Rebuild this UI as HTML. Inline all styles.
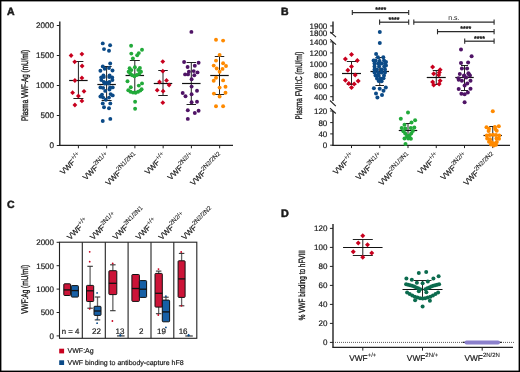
<!DOCTYPE html>
<html><head><meta charset="utf-8"><style>
html,body{margin:0;padding:0;background:#fff;}
svg{display:block;will-change:transform;}
text{text-rendering:geometricPrecision;font-family:"Liberation Sans", sans-serif;fill:#1a1a1a;stroke:#1a1a1a;stroke-width:0.2px;} tspan.s{stroke-width:0.1px;} text.ns{stroke-width:0;} text.bl{stroke-width:0.5px;} text.ast{stroke-width:0.35px;} text.yt{stroke-width:0.35px;}
</style></head><body>
<svg width="520" height="372" viewBox="0 0 520 372">
<rect width="520" height="372" fill="#fff"/>
<rect x="0.7" y="0.7" width="518.6" height="370.6" fill="none" stroke="#000" stroke-width="1.4"/>
<text x="7" y="15.4" font-size="10.5" text-anchor="start" font-weight="bold" class="bl">A</text>
<line x1="59.8" y1="21.5" x2="59.8" y2="146.1" stroke="#222" stroke-width="1.4" />
<line x1="59" y1="145.4" x2="233" y2="145.4" stroke="#222" stroke-width="1.3" />
<line x1="56.8" y1="25.5" x2="59.5" y2="25.5" stroke="#222" stroke-width="1" />
<text x="53.9" y="28.4" font-size="8.1" text-anchor="end" font-weight="normal" >2000</text>
<line x1="56.8" y1="55.5" x2="59.5" y2="55.5" stroke="#222" stroke-width="1" />
<text x="53.9" y="58.4" font-size="8.1" text-anchor="end" font-weight="normal" >1500</text>
<line x1="56.8" y1="85.5" x2="59.5" y2="85.5" stroke="#222" stroke-width="1" />
<text x="53.9" y="88.4" font-size="8.1" text-anchor="end" font-weight="normal" >1000</text>
<line x1="56.8" y1="115.5" x2="59.5" y2="115.5" stroke="#222" stroke-width="1" />
<text x="53.9" y="118.4" font-size="8.1" text-anchor="end" font-weight="normal" >500</text>
<line x1="56.8" y1="145.5" x2="59.5" y2="145.5" stroke="#222" stroke-width="1" />
<text x="53.9" y="148.4" font-size="8.1" text-anchor="end" font-weight="normal" >0</text>
<text x="0" y="0" font-size="9.6" text-anchor="middle" font-weight="normal" textLength="71" lengthAdjust="spacingAndGlyphs" class="yt" transform="translate(28.1,85.45) rotate(-90)">Plasma VWF-Ag (mU/ml)</text>
<line x1="78.4" y1="145.5" x2="78.4" y2="148.3" stroke="#222" stroke-width="1" />
<line x1="106.65" y1="145.5" x2="106.65" y2="148.3" stroke="#222" stroke-width="1" />
<line x1="134.9" y1="145.5" x2="134.9" y2="148.3" stroke="#222" stroke-width="1" />
<line x1="163.15" y1="145.5" x2="163.15" y2="148.3" stroke="#222" stroke-width="1" />
<line x1="191.4" y1="145.5" x2="191.4" y2="148.3" stroke="#222" stroke-width="1" />
<line x1="219.65" y1="145.5" x2="219.65" y2="148.3" stroke="#222" stroke-width="1" />
<text transform="translate(81.80,156.5) rotate(-45)" font-size="7.8" text-anchor="end">VWF<tspan class="s" font-size="6.2" dy="-3.5">+/+</tspan></text>
<text transform="translate(110.05,156.5) rotate(-45)" font-size="7.8" text-anchor="end">VWF<tspan class="s" font-size="6.2" dy="-3.5">2N1/+</tspan></text>
<text transform="translate(138.30,156.5) rotate(-45)" font-size="7.8" text-anchor="end">VWF<tspan class="s" font-size="6.2" dy="-3.5">2N1/2N1</tspan></text>
<text transform="translate(166.55,156.5) rotate(-45)" font-size="7.8" text-anchor="end">VWF<tspan class="s" font-size="6.2" dy="-3.5">+/+</tspan></text>
<text transform="translate(194.80,156.5) rotate(-45)" font-size="7.8" text-anchor="end">VWF<tspan class="s" font-size="6.2" dy="-3.5">2N2/+</tspan></text>
<text transform="translate(223.05,156.5) rotate(-45)" font-size="7.8" text-anchor="end">VWF<tspan class="s" font-size="6.2" dy="-3.5">2N2/2N2</tspan></text>
<line x1="78.4" y1="61.5" x2="78.4" y2="98.5" stroke="#222" stroke-width="1" />
<line x1="73.4" y1="61.5" x2="83.4" y2="61.5" stroke="#222" stroke-width="1" />
<line x1="73.4" y1="98.5" x2="83.4" y2="98.5" stroke="#222" stroke-width="1" />
<line x1="69.15" y1="80.5" x2="87.65" y2="80.5" stroke="#111" stroke-width="1.2" />
<line x1="106.6" y1="66.5" x2="106.6" y2="100.5" stroke="#222" stroke-width="1" />
<line x1="101.6" y1="66.5" x2="111.6" y2="66.5" stroke="#222" stroke-width="1" />
<line x1="101.6" y1="100.5" x2="111.6" y2="100.5" stroke="#222" stroke-width="1" />
<line x1="97.35" y1="84.5" x2="115.85" y2="84.5" stroke="#111" stroke-width="1.2" />
<line x1="134.8" y1="60.5" x2="134.8" y2="91.5" stroke="#222" stroke-width="1" />
<line x1="129.8" y1="60.5" x2="139.8" y2="60.5" stroke="#222" stroke-width="1" />
<line x1="129.8" y1="91.5" x2="139.8" y2="91.5" stroke="#222" stroke-width="1" />
<line x1="125.55000000000001" y1="75.5" x2="144.05" y2="75.5" stroke="#111" stroke-width="1.2" />
<line x1="163.0" y1="70.5" x2="163.0" y2="95.5" stroke="#222" stroke-width="1" />
<line x1="158.25" y1="70.5" x2="167.75" y2="70.5" stroke="#222" stroke-width="1" />
<line x1="158.25" y1="95.5" x2="167.75" y2="95.5" stroke="#222" stroke-width="1" />
<line x1="153.75" y1="83.5" x2="172.25" y2="83.5" stroke="#111" stroke-width="1.2" />
<line x1="191.3" y1="62.5" x2="191.3" y2="104.5" stroke="#222" stroke-width="1" />
<line x1="186.55" y1="62.5" x2="196.05" y2="62.5" stroke="#222" stroke-width="1" />
<line x1="186.55" y1="104.5" x2="196.05" y2="104.5" stroke="#222" stroke-width="1" />
<line x1="182.05" y1="83.5" x2="200.55" y2="83.5" stroke="#111" stroke-width="1.2" />
<line x1="219.5" y1="56.5" x2="219.5" y2="94.5" stroke="#222" stroke-width="1" />
<line x1="214.75" y1="56.5" x2="224.25" y2="56.5" stroke="#222" stroke-width="1" />
<line x1="214.75" y1="94.5" x2="224.25" y2="94.5" stroke="#222" stroke-width="1" />
<line x1="210.25" y1="75.5" x2="228.75" y2="75.5" stroke="#111" stroke-width="1.2" />
<path d="M71.10 53.10L73.50 55.50L71.10 57.90L68.70 55.50Z" fill="#c8001e"/>
<path d="M81.90 51.70L84.30 54.10L81.90 56.50L79.50 54.10Z" fill="#c8001e"/>
<path d="M74.70 59.40L77.10 61.80L74.70 64.20L72.30 61.80Z" fill="#c8001e"/>
<path d="M82.10 63.60L84.50 66.00L82.10 68.40L79.70 66.00Z" fill="#c8001e"/>
<path d="M74.90 78.10L77.30 80.50L74.90 82.90L72.50 80.50Z" fill="#c8001e"/>
<path d="M81.90 75.50L84.30 77.90L81.90 80.30L79.50 77.90Z" fill="#c8001e"/>
<path d="M72.60 90.30L75.00 92.70L72.60 95.10L70.20 92.70Z" fill="#c8001e"/>
<path d="M84.00 88.90L86.40 91.30L84.00 93.70L81.60 91.30Z" fill="#c8001e"/>
<path d="M78.40 93.60L80.80 96.00L78.40 98.40L76.00 96.00Z" fill="#c8001e"/>
<path d="M81.90 98.50L84.30 100.90L81.90 103.30L79.50 100.90Z" fill="#c8001e"/>
<path d="M74.90 102.60L77.30 105.00L74.90 107.40L72.50 105.00Z" fill="#c8001e"/>
<circle cx="102.75" cy="43.40" r="1.95" fill="#0b4a87"/>
<circle cx="110.10" cy="45.30" r="1.95" fill="#0b4a87"/>
<circle cx="104.00" cy="49.10" r="1.95" fill="#0b4a87"/>
<circle cx="109.00" cy="50.70" r="1.95" fill="#0b4a87"/>
<circle cx="110.20" cy="63.50" r="1.95" fill="#0b4a87"/>
<circle cx="102.80" cy="66.40" r="1.95" fill="#0b4a87"/>
<circle cx="104.70" cy="68.80" r="1.95" fill="#0b4a87"/>
<circle cx="109.00" cy="68.00" r="1.95" fill="#0b4a87"/>
<circle cx="100.40" cy="70.70" r="1.95" fill="#0b4a87"/>
<circle cx="112.50" cy="70.50" r="1.95" fill="#0b4a87"/>
<circle cx="101.20" cy="77.50" r="1.95" fill="#0b4a87"/>
<circle cx="103.40" cy="75.40" r="1.95" fill="#0b4a87"/>
<circle cx="109.60" cy="75.40" r="1.95" fill="#0b4a87"/>
<circle cx="112.20" cy="77.50" r="1.95" fill="#0b4a87"/>
<circle cx="101.30" cy="80.00" r="1.95" fill="#0b4a87"/>
<circle cx="112.40" cy="80.00" r="1.95" fill="#0b4a87"/>
<circle cx="103.80" cy="77.00" r="1.95" fill="#0b4a87"/>
<circle cx="109.30" cy="77.00" r="1.95" fill="#0b4a87"/>
<circle cx="103.90" cy="81.90" r="1.95" fill="#0b4a87"/>
<circle cx="109.40" cy="81.90" r="1.95" fill="#0b4a87"/>
<circle cx="106.60" cy="82.80" r="1.95" fill="#0b4a87"/>
<circle cx="104.70" cy="83.50" r="1.95" fill="#0b4a87"/>
<circle cx="108.50" cy="83.50" r="1.95" fill="#0b4a87"/>
<circle cx="100.40" cy="87.40" r="1.95" fill="#0b4a87"/>
<circle cx="103.10" cy="87.90" r="1.95" fill="#0b4a87"/>
<circle cx="110.10" cy="87.40" r="1.95" fill="#0b4a87"/>
<circle cx="112.70" cy="87.40" r="1.95" fill="#0b4a87"/>
<circle cx="109.50" cy="89.50" r="1.95" fill="#0b4a87"/>
<circle cx="105.20" cy="90.90" r="1.95" fill="#0b4a87"/>
<circle cx="102.00" cy="94.60" r="1.95" fill="#0b4a87"/>
<circle cx="100.40" cy="96.50" r="1.95" fill="#0b4a87"/>
<circle cx="110.60" cy="94.10" r="1.95" fill="#0b4a87"/>
<circle cx="112.70" cy="95.40" r="1.95" fill="#0b4a87"/>
<circle cx="103.10" cy="97.60" r="1.95" fill="#0b4a87"/>
<circle cx="109.00" cy="97.60" r="1.95" fill="#0b4a87"/>
<circle cx="105.80" cy="99.70" r="1.95" fill="#0b4a87"/>
<circle cx="102.75" cy="103.40" r="1.95" fill="#0b4a87"/>
<circle cx="110.30" cy="103.40" r="1.95" fill="#0b4a87"/>
<circle cx="104.00" cy="107.20" r="1.95" fill="#0b4a87"/>
<circle cx="109.00" cy="108.20" r="1.95" fill="#0b4a87"/>
<circle cx="102.75" cy="121.00" r="1.95" fill="#0b4a87"/>
<circle cx="110.30" cy="118.90" r="1.95" fill="#0b4a87"/>
<circle cx="131.10" cy="45.70" r="1.95" fill="#22aa3a"/>
<circle cx="142.00" cy="49.80" r="1.95" fill="#22aa3a"/>
<circle cx="131.30" cy="53.60" r="1.95" fill="#22aa3a"/>
<circle cx="138.80" cy="53.10" r="1.95" fill="#22aa3a"/>
<circle cx="137.20" cy="55.20" r="1.95" fill="#22aa3a"/>
<circle cx="132.90" cy="58.40" r="1.95" fill="#22aa3a"/>
<circle cx="129.60" cy="68.30" r="1.95" fill="#22aa3a"/>
<circle cx="134.90" cy="67.30" r="1.95" fill="#22aa3a"/>
<circle cx="139.90" cy="68.00" r="1.95" fill="#22aa3a"/>
<circle cx="128.60" cy="71.70" r="1.95" fill="#22aa3a"/>
<circle cx="141.00" cy="71.70" r="1.95" fill="#22aa3a"/>
<circle cx="130.30" cy="73.60" r="1.95" fill="#22aa3a"/>
<circle cx="139.30" cy="73.80" r="1.95" fill="#22aa3a"/>
<circle cx="132.20" cy="75.20" r="1.95" fill="#22aa3a"/>
<circle cx="136.80" cy="75.00" r="1.95" fill="#22aa3a"/>
<circle cx="134.50" cy="76.20" r="1.95" fill="#22aa3a"/>
<circle cx="131.40" cy="70.10" r="1.95" fill="#22aa3a"/>
<circle cx="138.30" cy="70.00" r="1.95" fill="#22aa3a"/>
<circle cx="127.50" cy="81.30" r="1.95" fill="#22aa3a"/>
<circle cx="142.00" cy="83.40" r="1.95" fill="#22aa3a"/>
<circle cx="138.80" cy="85.60" r="1.95" fill="#22aa3a"/>
<circle cx="130.80" cy="87.20" r="1.95" fill="#22aa3a"/>
<circle cx="128.30" cy="90.20" r="1.95" fill="#22aa3a"/>
<circle cx="130.50" cy="91.70" r="1.95" fill="#22aa3a"/>
<circle cx="133.00" cy="92.60" r="1.95" fill="#22aa3a"/>
<circle cx="135.60" cy="92.70" r="1.95" fill="#22aa3a"/>
<circle cx="138.10" cy="91.80" r="1.95" fill="#22aa3a"/>
<circle cx="140.30" cy="90.60" r="1.95" fill="#22aa3a"/>
<circle cx="141.60" cy="89.20" r="1.95" fill="#22aa3a"/>
<circle cx="135.10" cy="101.70" r="1.95" fill="#22aa3a"/>
<circle cx="135.10" cy="108.70" r="1.95" fill="#22aa3a"/>
<path d="M162.80 59.20L165.20 61.60L162.80 64.00L160.40 61.60Z" fill="#c8001e"/>
<path d="M162.80 68.80L165.20 71.20L162.80 73.60L160.40 71.20Z" fill="#c8001e"/>
<path d="M159.50 79.60L161.90 82.00L159.50 84.40L157.10 82.00Z" fill="#c8001e"/>
<path d="M166.50 78.00L168.90 80.40L166.50 82.80L164.10 80.40Z" fill="#c8001e"/>
<path d="M169.10 82.60L171.50 85.00L169.10 87.40L166.70 85.00Z" fill="#c8001e"/>
<path d="M157.20 87.80L159.60 90.20L157.20 92.60L154.80 90.20Z" fill="#c8001e"/>
<path d="M163.10 88.80L165.50 91.20L163.10 93.60L160.70 91.20Z" fill="#c8001e"/>
<path d="M162.80 100.30L165.20 102.70L162.80 105.10L160.40 102.70Z" fill="#c8001e"/>
<circle cx="191.40" cy="31.90" r="1.95" fill="#4f1466"/>
<circle cx="184.10" cy="62.00" r="1.95" fill="#4f1466"/>
<circle cx="198.60" cy="62.70" r="1.95" fill="#4f1466"/>
<circle cx="187.60" cy="67.00" r="1.95" fill="#4f1466"/>
<circle cx="194.80" cy="65.80" r="1.95" fill="#4f1466"/>
<circle cx="188.90" cy="71.70" r="1.95" fill="#4f1466"/>
<circle cx="193.70" cy="71.10" r="1.95" fill="#4f1466"/>
<circle cx="197.50" cy="72.40" r="1.95" fill="#4f1466"/>
<circle cx="185.10" cy="74.40" r="1.95" fill="#4f1466"/>
<circle cx="188.00" cy="74.40" r="1.95" fill="#4f1466"/>
<circle cx="194.30" cy="75.20" r="1.95" fill="#4f1466"/>
<circle cx="191.60" cy="79.20" r="1.95" fill="#4f1466"/>
<circle cx="191.60" cy="86.60" r="1.95" fill="#4f1466"/>
<circle cx="197.00" cy="90.70" r="1.95" fill="#4f1466"/>
<circle cx="182.70" cy="93.00" r="1.95" fill="#4f1466"/>
<circle cx="185.50" cy="96.30" r="1.95" fill="#4f1466"/>
<circle cx="191.60" cy="94.20" r="1.95" fill="#4f1466"/>
<circle cx="191.60" cy="102.20" r="1.95" fill="#4f1466"/>
<circle cx="197.00" cy="101.70" r="1.95" fill="#4f1466"/>
<circle cx="187.80" cy="110.30" r="1.95" fill="#4f1466"/>
<circle cx="194.80" cy="113.00" r="1.95" fill="#4f1466"/>
<circle cx="198.60" cy="110.80" r="1.95" fill="#4f1466"/>
<circle cx="187.80" cy="118.90" r="1.95" fill="#4f1466"/>
<circle cx="216.00" cy="39.80" r="1.95" fill="#ff8a00"/>
<circle cx="223.10" cy="40.60" r="1.95" fill="#ff8a00"/>
<circle cx="219.60" cy="54.90" r="1.95" fill="#ff8a00"/>
<circle cx="216.00" cy="60.60" r="1.95" fill="#ff8a00"/>
<circle cx="223.10" cy="63.20" r="1.95" fill="#ff8a00"/>
<circle cx="213.70" cy="65.60" r="1.95" fill="#ff8a00"/>
<circle cx="226.00" cy="66.00" r="1.95" fill="#ff8a00"/>
<circle cx="216.70" cy="68.50" r="1.95" fill="#ff8a00"/>
<circle cx="222.50" cy="68.90" r="1.95" fill="#ff8a00"/>
<circle cx="219.60" cy="71.70" r="1.95" fill="#ff8a00"/>
<circle cx="216.00" cy="77.70" r="1.95" fill="#ff8a00"/>
<circle cx="213.70" cy="80.70" r="1.95" fill="#ff8a00"/>
<circle cx="223.10" cy="80.40" r="1.95" fill="#ff8a00"/>
<circle cx="219.60" cy="87.60" r="1.95" fill="#ff8a00"/>
<circle cx="225.50" cy="86.80" r="1.95" fill="#ff8a00"/>
<circle cx="213.90" cy="93.60" r="1.95" fill="#ff8a00"/>
<circle cx="225.50" cy="92.70" r="1.95" fill="#ff8a00"/>
<circle cx="219.60" cy="96.50" r="1.95" fill="#ff8a00"/>
<circle cx="216.00" cy="106.20" r="1.95" fill="#ff8a00"/>
<circle cx="223.10" cy="106.20" r="1.95" fill="#ff8a00"/>
<text x="281" y="15.2" font-size="10.5" text-anchor="start" font-weight="bold" class="bl">B</text>
<line x1="333" y1="21.5" x2="333" y2="33" stroke="#222" stroke-width="1.4" />
<line x1="330.2" y1="31.8" x2="336" y2="37.2" stroke="#222" stroke-width="1.1" />
<line x1="330.2" y1="39.4" x2="336" y2="44.7" stroke="#222" stroke-width="1.1" />
<line x1="333" y1="42" x2="333" y2="101" stroke="#222" stroke-width="1.4" />
<line x1="330" y1="100.5" x2="335.8" y2="106.1" stroke="#222" stroke-width="1.1" />
<line x1="330" y1="108.2" x2="335.8" y2="113.5" stroke="#222" stroke-width="1.1" />
<line x1="333" y1="111" x2="333" y2="146" stroke="#222" stroke-width="1.4" />
<line x1="332.5" y1="145.35" x2="510" y2="145.35" stroke="#222" stroke-width="1.3" />
<line x1="330.2" y1="25.9" x2="333" y2="25.9" stroke="#222" stroke-width="1" />
<text x="327.3" y="28.9" font-size="8" text-anchor="end" font-weight="normal" >1900</text>
<line x1="330.2" y1="32.9" x2="333" y2="32.9" stroke="#222" stroke-width="1" />
<text x="327.3" y="35.9" font-size="8" text-anchor="end" font-weight="normal" >1800</text>
<line x1="330.2" y1="41.9" x2="333" y2="41.9" stroke="#222" stroke-width="1" />
<text x="327.3" y="44.9" font-size="8" text-anchor="end" font-weight="normal" >1400</text>
<line x1="330.2" y1="52.9" x2="333" y2="52.9" stroke="#222" stroke-width="1" />
<text x="327.3" y="55.9" font-size="8" text-anchor="end" font-weight="normal" >1200</text>
<line x1="330.2" y1="63.9" x2="333" y2="63.9" stroke="#222" stroke-width="1" />
<text x="327.3" y="66.9" font-size="8" text-anchor="end" font-weight="normal" >1000</text>
<line x1="330.2" y1="74.8" x2="333" y2="74.8" stroke="#222" stroke-width="1" />
<text x="327.3" y="77.8" font-size="8" text-anchor="end" font-weight="normal" >800</text>
<line x1="330.2" y1="85.7" x2="333" y2="85.7" stroke="#222" stroke-width="1" />
<text x="327.3" y="88.7" font-size="8" text-anchor="end" font-weight="normal" >600</text>
<line x1="330.2" y1="96.7" x2="333" y2="96.7" stroke="#222" stroke-width="1" />
<text x="327.3" y="99.7" font-size="8" text-anchor="end" font-weight="normal" >400</text>
<line x1="330.2" y1="111.0" x2="333" y2="111.0" stroke="#222" stroke-width="1" />
<text x="327.3" y="114.0" font-size="8" text-anchor="end" font-weight="normal" >120</text>
<line x1="330.2" y1="122.6" x2="333" y2="122.6" stroke="#222" stroke-width="1" />
<text x="327.3" y="125.6" font-size="8" text-anchor="end" font-weight="normal" >80</text>
<line x1="330.2" y1="133.9" x2="333" y2="133.9" stroke="#222" stroke-width="1" />
<text x="327.3" y="136.9" font-size="8" text-anchor="end" font-weight="normal" >40</text>
<line x1="330.2" y1="145.2" x2="333" y2="145.2" stroke="#222" stroke-width="1" />
<text x="327.3" y="148.2" font-size="8" text-anchor="end" font-weight="normal" >0</text>
<text x="0" y="0" font-size="9.6" text-anchor="middle" font-weight="normal" textLength="67.9" lengthAdjust="spacingAndGlyphs" class="yt" transform="translate(301.9,85.65) rotate(-90)">Plasma FVIII:C (mU/ml)</text>
<line x1="351.5" y1="145.3" x2="351.5" y2="148.1" stroke="#222" stroke-width="1" />
<line x1="379.75" y1="145.3" x2="379.75" y2="148.1" stroke="#222" stroke-width="1" />
<line x1="408.0" y1="145.3" x2="408.0" y2="148.1" stroke="#222" stroke-width="1" />
<line x1="436.25" y1="145.3" x2="436.25" y2="148.1" stroke="#222" stroke-width="1" />
<line x1="464.5" y1="145.3" x2="464.5" y2="148.1" stroke="#222" stroke-width="1" />
<line x1="492.75" y1="145.3" x2="492.75" y2="148.1" stroke="#222" stroke-width="1" />
<text transform="translate(354.90,156.5) rotate(-45)" font-size="7.8" text-anchor="end">VWF<tspan class="s" font-size="6.2" dy="-3.5">+/+</tspan></text>
<text transform="translate(383.15,156.5) rotate(-45)" font-size="7.8" text-anchor="end">VWF<tspan class="s" font-size="6.2" dy="-3.5">2N1/+</tspan></text>
<text transform="translate(411.40,156.5) rotate(-45)" font-size="7.8" text-anchor="end">VWF<tspan class="s" font-size="6.2" dy="-3.5">2N1/2N1</tspan></text>
<text transform="translate(439.65,156.5) rotate(-45)" font-size="7.8" text-anchor="end">VWF<tspan class="s" font-size="6.2" dy="-3.5">+/+</tspan></text>
<text transform="translate(467.90,156.5) rotate(-45)" font-size="7.8" text-anchor="end">VWF<tspan class="s" font-size="6.2" dy="-3.5">2N2/+</tspan></text>
<text transform="translate(496.15,156.5) rotate(-45)" font-size="7.8" text-anchor="end">VWF<tspan class="s" font-size="6.2" dy="-3.5">2N2/2N2</tspan></text>
<line x1="352.3" y1="12.5" x2="408.7" y2="12.5" stroke="#2a2a2a" stroke-width="1.25" />
<line x1="352.3" y1="9.9" x2="352.3" y2="15.1" stroke="#2a2a2a" stroke-width="1.1" />
<line x1="408.7" y1="9.9" x2="408.7" y2="15.1" stroke="#2a2a2a" stroke-width="1.1" />
<text x="380.7" y="12.2" font-size="7" text-anchor="middle" font-weight="normal" class="ast">****</text>
<line x1="379.6" y1="22.2" x2="408.7" y2="22.2" stroke="#2a2a2a" stroke-width="1.25" />
<line x1="379.6" y1="19.599999999999998" x2="379.6" y2="24.8" stroke="#2a2a2a" stroke-width="1.1" />
<line x1="408.7" y1="19.599999999999998" x2="408.7" y2="24.8" stroke="#2a2a2a" stroke-width="1.1" />
<text x="394.0" y="21.9" font-size="7" text-anchor="middle" font-weight="normal" class="ast">****</text>
<line x1="413.8" y1="22.2" x2="494.1" y2="22.2" stroke="#2a2a2a" stroke-width="1.25" />
<line x1="413.8" y1="19.599999999999998" x2="413.8" y2="24.8" stroke="#2a2a2a" stroke-width="1.1" />
<line x1="494.1" y1="19.599999999999998" x2="494.1" y2="24.8" stroke="#2a2a2a" stroke-width="1.1" />
<text x="453.9" y="20.0" font-size="7" text-anchor="middle" font-weight="normal" class="ns">n.s.</text>
<line x1="437.5" y1="31.7" x2="494.1" y2="31.7" stroke="#2a2a2a" stroke-width="1.25" />
<line x1="437.5" y1="29.099999999999998" x2="437.5" y2="34.3" stroke="#2a2a2a" stroke-width="1.1" />
<line x1="494.1" y1="29.099999999999998" x2="494.1" y2="34.3" stroke="#2a2a2a" stroke-width="1.1" />
<text x="465.8" y="31.4" font-size="7" text-anchor="middle" font-weight="normal" class="ast">****</text>
<line x1="464.7" y1="41.2" x2="494.1" y2="41.2" stroke="#2a2a2a" stroke-width="1.25" />
<line x1="464.7" y1="38.6" x2="464.7" y2="43.800000000000004" stroke="#2a2a2a" stroke-width="1.1" />
<line x1="494.1" y1="38.6" x2="494.1" y2="43.800000000000004" stroke="#2a2a2a" stroke-width="1.1" />
<text x="479.5" y="40.900000000000006" font-size="7" text-anchor="middle" font-weight="normal" class="ast">****</text>
<line x1="351.5" y1="61.5" x2="351.5" y2="84.5" stroke="#222" stroke-width="1" />
<line x1="346.75" y1="61.5" x2="356.25" y2="61.5" stroke="#222" stroke-width="1" />
<line x1="346.75" y1="84.5" x2="356.25" y2="84.5" stroke="#222" stroke-width="1" />
<line x1="342.0" y1="73.5" x2="361.0" y2="73.5" stroke="#111" stroke-width="1.2" />
<line x1="379.75" y1="57.5" x2="379.75" y2="85.5" stroke="#222" stroke-width="1" />
<line x1="375.45" y1="57.5" x2="384.05" y2="57.5" stroke="#222" stroke-width="1" />
<line x1="375.45" y1="85.5" x2="384.05" y2="85.5" stroke="#222" stroke-width="1" />
<line x1="370.5" y1="71.5" x2="389.0" y2="71.5" stroke="#111" stroke-width="1.2" />
<line x1="408.0" y1="123.5" x2="408.0" y2="137.5" stroke="#222" stroke-width="1" />
<line x1="405.0" y1="123.5" x2="411.0" y2="123.5" stroke="#222" stroke-width="1" />
<line x1="405.0" y1="137.5" x2="411.0" y2="137.5" stroke="#222" stroke-width="1" />
<line x1="398.75" y1="130.5" x2="417.25" y2="130.5" stroke="#111" stroke-width="1.2" />
<line x1="436.25" y1="70.5" x2="436.25" y2="84.5" stroke="#222" stroke-width="1" />
<line x1="432.75" y1="70.5" x2="439.75" y2="70.5" stroke="#222" stroke-width="1" />
<line x1="432.75" y1="84.5" x2="439.75" y2="84.5" stroke="#222" stroke-width="1" />
<line x1="426.75" y1="77.5" x2="445.75" y2="77.5" stroke="#111" stroke-width="1.2" />
<line x1="464.5" y1="65.5" x2="464.5" y2="90.5" stroke="#222" stroke-width="1" />
<line x1="461.0" y1="65.5" x2="468.0" y2="65.5" stroke="#222" stroke-width="1" />
<line x1="461.0" y1="90.5" x2="468.0" y2="90.5" stroke="#222" stroke-width="1" />
<line x1="455.25" y1="77.5" x2="473.75" y2="77.5" stroke="#111" stroke-width="1.2" />
<line x1="492.75" y1="126.5" x2="492.75" y2="144.5" stroke="#222" stroke-width="1" />
<line x1="489.25" y1="126.5" x2="496.25" y2="126.5" stroke="#222" stroke-width="1" />
<line x1="489.25" y1="144.5" x2="496.25" y2="144.5" stroke="#222" stroke-width="1" />
<line x1="483.5" y1="135.5" x2="502.0" y2="135.5" stroke="#111" stroke-width="1.2" />
<path d="M351.50 51.90L354.00 54.40L351.50 56.90L349.00 54.40Z" fill="#c8001e"/>
<path d="M345.40 56.60L347.90 59.10L345.40 61.60L342.90 59.10Z" fill="#c8001e"/>
<path d="M357.30 58.00L359.80 60.50L357.30 63.00L354.80 60.50Z" fill="#c8001e"/>
<path d="M351.50 64.00L354.00 66.50L351.50 69.00L349.00 66.50Z" fill="#c8001e"/>
<path d="M347.80 67.80L350.30 70.30L347.80 72.80L345.30 70.30Z" fill="#c8001e"/>
<path d="M355.20 72.40L357.70 74.90L355.20 77.40L352.70 74.90Z" fill="#c8001e"/>
<path d="M345.40 77.80L347.90 80.30L345.40 82.80L342.90 80.30Z" fill="#c8001e"/>
<path d="M348.80 80.90L351.30 83.40L348.80 85.90L346.30 83.40Z" fill="#c8001e"/>
<path d="M354.20 81.50L356.70 84.00L354.20 86.50L351.70 84.00Z" fill="#c8001e"/>
<path d="M358.20 78.60L360.70 81.10L358.20 83.60L355.70 81.10Z" fill="#c8001e"/>
<path d="M351.50 84.90L354.00 87.40L351.50 89.90L349.00 87.40Z" fill="#c8001e"/>
<circle cx="379.80" cy="32.00" r="2.0" fill="#0b4a87"/>
<circle cx="379.80" cy="43.10" r="2.0" fill="#0b4a87"/>
<circle cx="376.10" cy="54.00" r="2.0" fill="#0b4a87"/>
<circle cx="377.90" cy="57.30" r="2.0" fill="#0b4a87"/>
<circle cx="383.30" cy="57.30" r="2.0" fill="#0b4a87"/>
<circle cx="373.60" cy="60.50" r="2.0" fill="#0b4a87"/>
<circle cx="386.00" cy="62.10" r="2.0" fill="#0b4a87"/>
<circle cx="375.50" cy="60.50" r="2.0" fill="#0b4a87"/>
<circle cx="379.50" cy="61.00" r="2.0" fill="#0b4a87"/>
<circle cx="384.00" cy="60.50" r="2.0" fill="#0b4a87"/>
<circle cx="374.50" cy="63.50" r="2.0" fill="#0b4a87"/>
<circle cx="378.00" cy="63.50" r="2.0" fill="#0b4a87"/>
<circle cx="381.50" cy="63.50" r="2.0" fill="#0b4a87"/>
<circle cx="385.00" cy="63.50" r="2.0" fill="#0b4a87"/>
<circle cx="374.50" cy="66.50" r="2.0" fill="#0b4a87"/>
<circle cx="379.10" cy="66.50" r="2.0" fill="#0b4a87"/>
<circle cx="384.20" cy="66.50" r="2.0" fill="#0b4a87"/>
<circle cx="386.00" cy="65.50" r="2.0" fill="#0b4a87"/>
<circle cx="374.50" cy="69.50" r="2.0" fill="#0b4a87"/>
<circle cx="377.00" cy="69.50" r="2.0" fill="#0b4a87"/>
<circle cx="381.50" cy="69.50" r="2.0" fill="#0b4a87"/>
<circle cx="385.00" cy="69.50" r="2.0" fill="#0b4a87"/>
<circle cx="374.50" cy="72.50" r="2.0" fill="#0b4a87"/>
<circle cx="378.00" cy="72.50" r="2.0" fill="#0b4a87"/>
<circle cx="381.50" cy="72.50" r="2.0" fill="#0b4a87"/>
<circle cx="385.00" cy="72.50" r="2.0" fill="#0b4a87"/>
<circle cx="375.50" cy="75.50" r="2.0" fill="#0b4a87"/>
<circle cx="378.50" cy="75.50" r="2.0" fill="#0b4a87"/>
<circle cx="384.00" cy="75.50" r="2.0" fill="#0b4a87"/>
<circle cx="377.00" cy="78.50" r="2.0" fill="#0b4a87"/>
<circle cx="380.50" cy="78.50" r="2.0" fill="#0b4a87"/>
<circle cx="383.50" cy="78.30" r="2.0" fill="#0b4a87"/>
<circle cx="378.70" cy="81.00" r="2.0" fill="#0b4a87"/>
<circle cx="381.60" cy="81.20" r="2.0" fill="#0b4a87"/>
<circle cx="373.90" cy="88.20" r="2.0" fill="#0b4a87"/>
<circle cx="379.70" cy="88.80" r="2.0" fill="#0b4a87"/>
<circle cx="385.80" cy="87.60" r="2.0" fill="#0b4a87"/>
<circle cx="383.50" cy="90.80" r="2.0" fill="#0b4a87"/>
<circle cx="376.00" cy="93.40" r="2.0" fill="#0b4a87"/>
<circle cx="382.00" cy="95.10" r="2.0" fill="#0b4a87"/>
<circle cx="377.40" cy="97.40" r="2.0" fill="#0b4a87"/>
<circle cx="408.00" cy="112.50" r="2.0" fill="#22aa3a"/>
<circle cx="400.80" cy="118.80" r="2.0" fill="#22aa3a"/>
<circle cx="415.10" cy="120.20" r="2.0" fill="#22aa3a"/>
<circle cx="411.50" cy="122.50" r="2.0" fill="#22aa3a"/>
<circle cx="404.50" cy="124.80" r="2.0" fill="#22aa3a"/>
<circle cx="401.70" cy="128.10" r="2.0" fill="#22aa3a"/>
<circle cx="414.30" cy="127.50" r="2.0" fill="#22aa3a"/>
<circle cx="405.30" cy="128.40" r="2.0" fill="#22aa3a"/>
<circle cx="410.80" cy="128.00" r="2.0" fill="#22aa3a"/>
<circle cx="403.40" cy="131.20" r="2.0" fill="#22aa3a"/>
<circle cx="412.80" cy="131.00" r="2.0" fill="#22aa3a"/>
<circle cx="405.20" cy="133.60" r="2.0" fill="#22aa3a"/>
<circle cx="411.20" cy="133.40" r="2.0" fill="#22aa3a"/>
<circle cx="406.90" cy="136.00" r="2.0" fill="#22aa3a"/>
<circle cx="409.50" cy="135.80" r="2.0" fill="#22aa3a"/>
<circle cx="404.50" cy="138.40" r="2.0" fill="#22aa3a"/>
<circle cx="410.90" cy="138.70" r="2.0" fill="#22aa3a"/>
<circle cx="408.20" cy="138.40" r="2.0" fill="#22aa3a"/>
<circle cx="405.50" cy="144.00" r="2.0" fill="#22aa3a"/>
<path d="M432.60 64.50L435.10 67.00L432.60 69.50L430.10 67.00Z" fill="#c8001e"/>
<path d="M440.10 67.30L442.60 69.80L440.10 72.30L437.60 69.80Z" fill="#c8001e"/>
<path d="M439.30 69.90L441.80 72.40L439.30 74.90L436.80 72.40Z" fill="#c8001e"/>
<path d="M433.70 71.30L436.20 73.80L433.70 76.30L431.20 73.80Z" fill="#c8001e"/>
<path d="M438.70 72.40L441.20 74.90L438.70 77.40L436.20 74.90Z" fill="#c8001e"/>
<path d="M432.60 79.40L435.10 81.90L432.60 84.40L430.10 81.90Z" fill="#c8001e"/>
<path d="M440.10 78.30L442.60 80.80L440.10 83.30L437.60 80.80Z" fill="#c8001e"/>
<path d="M433.70 82.60L436.20 85.10L433.70 87.60L431.20 85.10Z" fill="#c8001e"/>
<path d="M439.10 81.50L441.60 84.00L439.10 86.50L436.60 84.00Z" fill="#c8001e"/>
<circle cx="461.00" cy="49.50" r="2.0" fill="#4f1466"/>
<circle cx="471.60" cy="56.30" r="2.0" fill="#4f1466"/>
<circle cx="461.00" cy="63.10" r="2.0" fill="#4f1466"/>
<circle cx="468.10" cy="62.60" r="2.0" fill="#4f1466"/>
<circle cx="461.90" cy="68.50" r="2.0" fill="#4f1466"/>
<circle cx="467.10" cy="68.50" r="2.0" fill="#4f1466"/>
<circle cx="459.80" cy="73.90" r="2.0" fill="#4f1466"/>
<circle cx="468.40" cy="73.30" r="2.0" fill="#4f1466"/>
<circle cx="464.10" cy="76.00" r="2.0" fill="#4f1466"/>
<circle cx="470.00" cy="75.50" r="2.0" fill="#4f1466"/>
<circle cx="458.50" cy="78.20" r="2.0" fill="#4f1466"/>
<circle cx="466.20" cy="77.60" r="2.0" fill="#4f1466"/>
<circle cx="464.10" cy="75.40" r="2.0" fill="#4f1466"/>
<circle cx="468.90" cy="74.30" r="2.0" fill="#4f1466"/>
<circle cx="458.70" cy="79.70" r="2.0" fill="#4f1466"/>
<circle cx="461.90" cy="80.80" r="2.0" fill="#4f1466"/>
<circle cx="470.50" cy="80.80" r="2.0" fill="#4f1466"/>
<circle cx="467.30" cy="83.40" r="2.0" fill="#4f1466"/>
<circle cx="464.60" cy="85.60" r="2.0" fill="#4f1466"/>
<circle cx="458.70" cy="89.10" r="2.0" fill="#4f1466"/>
<circle cx="470.50" cy="88.80" r="2.0" fill="#4f1466"/>
<circle cx="461.40" cy="93.70" r="2.0" fill="#4f1466"/>
<circle cx="464.60" cy="94.20" r="2.0" fill="#4f1466"/>
<circle cx="467.80" cy="92.60" r="2.0" fill="#4f1466"/>
<circle cx="464.60" cy="102.30" r="2.0" fill="#4f1466"/>
<circle cx="492.80" cy="111.30" r="2.0" fill="#ff8a00"/>
<circle cx="486.50" cy="127.20" r="2.0" fill="#ff8a00"/>
<circle cx="489.00" cy="128.80" r="2.0" fill="#ff8a00"/>
<circle cx="488.60" cy="130.90" r="2.0" fill="#ff8a00"/>
<circle cx="494.90" cy="126.90" r="2.0" fill="#ff8a00"/>
<circle cx="498.80" cy="126.20" r="2.0" fill="#ff8a00"/>
<circle cx="496.70" cy="130.70" r="2.0" fill="#ff8a00"/>
<circle cx="495.30" cy="129.00" r="2.0" fill="#ff8a00"/>
<circle cx="486.80" cy="135.50" r="2.0" fill="#ff8a00"/>
<circle cx="489.80" cy="135.00" r="2.0" fill="#ff8a00"/>
<circle cx="493.00" cy="134.80" r="2.0" fill="#ff8a00"/>
<circle cx="496.00" cy="135.00" r="2.0" fill="#ff8a00"/>
<circle cx="499.20" cy="135.50" r="2.0" fill="#ff8a00"/>
<circle cx="487.20" cy="138.60" r="2.0" fill="#ff8a00"/>
<circle cx="490.00" cy="139.20" r="2.0" fill="#ff8a00"/>
<circle cx="496.50" cy="138.50" r="2.0" fill="#ff8a00"/>
<circle cx="499.00" cy="138.80" r="2.0" fill="#ff8a00"/>
<circle cx="489.00" cy="141.80" r="2.0" fill="#ff8a00"/>
<circle cx="491.80" cy="142.20" r="2.0" fill="#ff8a00"/>
<circle cx="496.80" cy="142.00" r="2.0" fill="#ff8a00"/>
<circle cx="494.50" cy="143.50" r="2.0" fill="#ff8a00"/>
<circle cx="491.00" cy="144.60" r="2.0" fill="#ff8a00"/>
<circle cx="493.80" cy="145.50" r="2.0" fill="#ff8a00"/>
<circle cx="496.00" cy="144.80" r="2.0" fill="#ff8a00"/>
<text x="7" y="208.3" font-size="10.5" text-anchor="start" font-weight="bold" class="bl">C</text>
<rect x="59.5" y="242.2" width="137.3" height="96.10000000000002" fill="none" stroke="#222" stroke-width="1.1"/>
<line x1="82.3" y1="242.2" x2="82.3" y2="338.3" stroke="#222" stroke-width="1.1" />
<line x1="105.3" y1="242.2" x2="105.3" y2="338.3" stroke="#222" stroke-width="1.1" />
<line x1="128.1" y1="242.2" x2="128.1" y2="338.3" stroke="#222" stroke-width="1.1" />
<line x1="151.0" y1="242.2" x2="151.0" y2="338.3" stroke="#222" stroke-width="1.1" />
<line x1="173.8" y1="242.2" x2="173.8" y2="338.3" stroke="#222" stroke-width="1.1" />
<line x1="56.6" y1="242.29999999999995" x2="59.5" y2="242.29999999999995" stroke="#222" stroke-width="1" />
<text x="54.0" y="245.19999999999996" font-size="8" text-anchor="end" font-weight="normal" >2000</text>
<line x1="56.6" y1="265.7" x2="59.5" y2="265.7" stroke="#222" stroke-width="1" />
<text x="54.0" y="268.59999999999997" font-size="8" text-anchor="end" font-weight="normal" >1500</text>
<line x1="56.6" y1="289.09999999999997" x2="59.5" y2="289.09999999999997" stroke="#222" stroke-width="1" />
<text x="54.0" y="291.99999999999994" font-size="8" text-anchor="end" font-weight="normal" >1000</text>
<line x1="56.6" y1="312.5" x2="59.5" y2="312.5" stroke="#222" stroke-width="1" />
<text x="54.0" y="315.4" font-size="8" text-anchor="end" font-weight="normal" >500</text>
<line x1="56.6" y1="335.9" x2="59.5" y2="335.9" stroke="#222" stroke-width="1" />
<text x="54.0" y="338.79999999999995" font-size="8" text-anchor="end" font-weight="normal" >0</text>
<text x="0" y="0" font-size="9.6" text-anchor="middle" font-weight="normal" textLength="48.9" lengthAdjust="spacingAndGlyphs" class="yt" transform="translate(28.4,289.35) rotate(-90)">VWF:Ag (mU/ml)</text>
<text transform="translate(70.30,240.3) rotate(-45)" font-size="7.8">VWF<tspan class="s" font-size="6.2" dy="-3.5">+/+</tspan></text>
<text transform="translate(93.20,240.3) rotate(-45)" font-size="7.8">VWF<tspan class="s" font-size="6.2" dy="-3.5">2N1/+</tspan></text>
<text transform="translate(116.10,240.3) rotate(-45)" font-size="7.8">VWF<tspan class="s" font-size="6.2" dy="-3.5">2N1/2N1</tspan></text>
<text transform="translate(138.95,240.3) rotate(-45)" font-size="7.8">VWF<tspan class="s" font-size="6.2" dy="-3.5">+/+</tspan></text>
<text transform="translate(161.80,240.3) rotate(-45)" font-size="7.8">VWF<tspan class="s" font-size="6.2" dy="-3.5">2N2/+</tspan></text>
<text transform="translate(184.75,240.3) rotate(-45)" font-size="7.8">VWF<tspan class="s" font-size="6.2" dy="-3.5">2N2/2N2</tspan></text>
<text x="61.8" y="333.8" font-size="7.8" text-anchor="start" font-weight="normal" >n = 4</text>
<text x="96.45" y="333.8" font-size="8" text-anchor="middle" font-weight="normal" >22</text>
<text x="119.9" y="333.8" font-size="8" text-anchor="middle" font-weight="normal" >13</text>
<text x="141.2" y="333.8" font-size="8" text-anchor="middle" font-weight="normal" >2</text>
<text x="161.5" y="333.8" font-size="8" text-anchor="middle" font-weight="normal" >19</text>
<text x="183.1" y="333.8" font-size="8" text-anchor="middle" font-weight="normal" >16</text>
<rect x="63.8" y="283.8" width="6.799999999999997" height="11.699999999999989" rx="0.8" fill="#cc1438" stroke="#111" stroke-width="1"/>
<line x1="63.8" y1="289.9" x2="70.6" y2="289.9" stroke="#111" stroke-width="1.3" />
<rect x="71.3" y="285.6" width="7.1000000000000085" height="11.5" rx="0.8" fill="#1760a6" stroke="#111" stroke-width="1"/>
<line x1="71.3" y1="290.6" x2="78.4" y2="290.6" stroke="#111" stroke-width="1.3" />
<line x1="90.1" y1="266.3" x2="90.1" y2="285.4" stroke="#666" stroke-width="1.3" />
<line x1="87.35" y1="266.3" x2="92.85" y2="266.3" stroke="#333" stroke-width="1.1" />
<line x1="90.1" y1="301.5" x2="90.1" y2="308.2" stroke="#666" stroke-width="1.3" />
<line x1="87.35" y1="308.2" x2="92.85" y2="308.2" stroke="#333" stroke-width="1.1" />
<rect x="86.5" y="285.4" width="7.200000000000003" height="16.100000000000023" rx="0.8" fill="#cc1438" stroke="#111" stroke-width="1"/>
<line x1="86.5" y1="290.8" x2="93.7" y2="290.8" stroke="#111" stroke-width="1.3" />
<circle cx="89.70" cy="251.80" r="0.9" fill="#c8001e"/>
<circle cx="89.70" cy="261.70" r="0.9" fill="#c8001e"/>
<circle cx="89.70" cy="308.80" r="0.9" fill="#c8001e"/>
<line x1="97.5" y1="297.0" x2="97.5" y2="306.3" stroke="#666" stroke-width="1.3" />
<line x1="94.75" y1="297.0" x2="100.25" y2="297.0" stroke="#333" stroke-width="1.1" />
<line x1="97.5" y1="315.4" x2="97.5" y2="319.9" stroke="#666" stroke-width="1.3" />
<line x1="94.75" y1="319.9" x2="100.25" y2="319.9" stroke="#333" stroke-width="1.1" />
<rect x="94.0" y="306.3" width="7.0" height="9.099999999999966" rx="0.8" fill="#1760a6" stroke="#111" stroke-width="1"/>
<line x1="94.0" y1="311.0" x2="101.0" y2="311.0" stroke="#111" stroke-width="1.3" />
<circle cx="97.10" cy="292.90" r="0.9" fill="#0b4a87"/>
<circle cx="97.10" cy="323.20" r="0.9" fill="#0b4a87"/>
<circle cx="97.10" cy="319.40" r="0.8" fill="#0b4a87"/>
<line x1="112.85" y1="264.8" x2="112.85" y2="270.7" stroke="#666" stroke-width="1.3" />
<line x1="110.1" y1="264.8" x2="115.6" y2="264.8" stroke="#333" stroke-width="1.1" />
<line x1="112.85" y1="294.6" x2="112.85" y2="310.7" stroke="#666" stroke-width="1.3" />
<line x1="110.1" y1="310.7" x2="115.6" y2="310.7" stroke="#333" stroke-width="1.1" />
<rect x="108.9" y="270.7" width="7.8999999999999915" height="23.900000000000034" rx="0.8" fill="#cc1438" stroke="#111" stroke-width="1"/>
<line x1="108.9" y1="283.3" x2="116.8" y2="283.3" stroke="#111" stroke-width="1.3" />
<circle cx="112.70" cy="263.40" r="0.9" fill="#c8001e"/>
<circle cx="112.40" cy="321.00" r="0.9" fill="#c8001e"/>
<line x1="117.0" y1="335.9" x2="124.6" y2="335.9" stroke="#555" stroke-width="1.4" />
<path d="M120.30 333.80L121.80 335.30L120.30 336.80L118.80 335.30Z" fill="#0b4a87"/>
<rect x="131.9" y="274.5" width="7.5" height="26.899999999999977" rx="0.8" fill="#cc1438" stroke="#111" stroke-width="1"/>
<line x1="131.9" y1="288.5" x2="139.4" y2="288.5" stroke="#111" stroke-width="1.3" />
<rect x="139.4" y="280.6" width="7.199999999999989" height="16.799999999999955" rx="0.8" fill="#1760a6" stroke="#111" stroke-width="1"/>
<line x1="139.4" y1="289.2" x2="146.6" y2="289.2" stroke="#111" stroke-width="1.3" />
<line x1="158.65" y1="271.1" x2="158.65" y2="273.4" stroke="#666" stroke-width="1.3" />
<line x1="155.9" y1="271.1" x2="161.4" y2="271.1" stroke="#333" stroke-width="1.1" />
<line x1="158.65" y1="307.1" x2="158.65" y2="313.7" stroke="#666" stroke-width="1.3" />
<line x1="155.9" y1="313.7" x2="161.4" y2="313.7" stroke="#333" stroke-width="1.1" />
<rect x="155.0" y="273.4" width="7.300000000000011" height="33.700000000000045" rx="0.8" fill="#cc1438" stroke="#111" stroke-width="1"/>
<line x1="155.0" y1="293.3" x2="162.3" y2="293.3" stroke="#111" stroke-width="1.3" />
<circle cx="158.50" cy="269.10" r="0.9" fill="#c8001e"/>
<circle cx="158.30" cy="315.00" r="0.9" fill="#c8001e"/>
<line x1="165.95" y1="297.2" x2="165.95" y2="300.1" stroke="#666" stroke-width="1.3" />
<line x1="163.2" y1="297.2" x2="168.7" y2="297.2" stroke="#333" stroke-width="1.1" />
<rect x="162.3" y="300.1" width="7.299999999999983" height="21.69999999999999" rx="0.8" fill="#1760a6" stroke="#111" stroke-width="1"/>
<line x1="162.3" y1="311.9" x2="169.6" y2="311.9" stroke="#111" stroke-width="1.3" />
<circle cx="165.90" cy="296.20" r="0.9" fill="#0b4a87"/>
<circle cx="165.90" cy="327.40" r="0.9" fill="#0b4a87"/>
<line x1="181.6" y1="253.4" x2="181.6" y2="260.8" stroke="#666" stroke-width="1.3" />
<line x1="178.85" y1="253.4" x2="184.35" y2="253.4" stroke="#333" stroke-width="1.1" />
<line x1="181.6" y1="297.4" x2="181.6" y2="305.8" stroke="#666" stroke-width="1.3" />
<line x1="178.85" y1="305.8" x2="184.35" y2="305.8" stroke="#333" stroke-width="1.1" />
<rect x="178.1" y="260.8" width="7.0" height="36.599999999999966" rx="0.8" fill="#cc1438" stroke="#111" stroke-width="1"/>
<line x1="178.1" y1="278.9" x2="185.1" y2="278.9" stroke="#111" stroke-width="1.3" />
<circle cx="181.20" cy="252.00" r="0.9" fill="#c8001e"/>
<circle cx="181.40" cy="305.80" r="0.9" fill="#c8001e"/>
<line x1="185.3" y1="336.0" x2="192.8" y2="336.0" stroke="#555" stroke-width="1.4" />
<path d="M188.60 333.80L190.10 335.30L188.60 336.80L187.10 335.30Z" fill="#0b4a87"/>
<rect x="59.2" y="348.7" width="4.9" height="4.7" fill="#c8001e"/>
<text x="67.6" y="353.3" font-size="7.0" text-anchor="start" font-weight="normal" >VWF:Ag</text>
<rect x="59.2" y="360.3" width="4.9" height="4.7" fill="#0b4a87"/>
<text x="67.6" y="364.8" font-size="7.0" text-anchor="start" font-weight="normal" >VWF binding to antibody-capture hF8</text>
<text x="281" y="216.9" font-size="10.8" text-anchor="start" font-weight="bold" class="bl">D</text>
<line x1="333" y1="224" x2="333" y2="347.8" stroke="#222" stroke-width="1.4" />
<line x1="332.5" y1="347.3" x2="513" y2="347.3" stroke="#222" stroke-width="1.3" />
<line x1="329.9" y1="228.39999999999998" x2="333" y2="228.39999999999998" stroke="#222" stroke-width="1" />
<text x="327.4" y="231.29999999999998" font-size="8" text-anchor="end" font-weight="normal" >120</text>
<line x1="329.9" y1="247.39999999999998" x2="333" y2="247.39999999999998" stroke="#222" stroke-width="1" />
<text x="327.4" y="250.29999999999998" font-size="8" text-anchor="end" font-weight="normal" >100</text>
<line x1="329.9" y1="266.4" x2="333" y2="266.4" stroke="#222" stroke-width="1" />
<text x="327.4" y="269.29999999999995" font-size="8" text-anchor="end" font-weight="normal" >80</text>
<line x1="329.9" y1="285.4" x2="333" y2="285.4" stroke="#222" stroke-width="1" />
<text x="327.4" y="288.29999999999995" font-size="8" text-anchor="end" font-weight="normal" >60</text>
<line x1="329.9" y1="304.4" x2="333" y2="304.4" stroke="#222" stroke-width="1" />
<text x="327.4" y="307.29999999999995" font-size="8" text-anchor="end" font-weight="normal" >40</text>
<line x1="329.9" y1="323.4" x2="333" y2="323.4" stroke="#222" stroke-width="1" />
<text x="327.4" y="326.29999999999995" font-size="8" text-anchor="end" font-weight="normal" >20</text>
<line x1="329.9" y1="342.4" x2="333" y2="342.4" stroke="#222" stroke-width="1" />
<text x="327.4" y="345.29999999999995" font-size="8" text-anchor="end" font-weight="normal" >0</text>
<line x1="333" y1="342.4" x2="514" y2="342.4" stroke="#333" stroke-width="0.8" stroke-dasharray="1 1"/>
<text x="0" y="0" font-size="9.0" text-anchor="middle" font-weight="normal" textLength="70.1" lengthAdjust="spacingAndGlyphs" class="yt" transform="translate(304.6,285.15) rotate(-90)">% VWF binding to hFVIII</text>
<line x1="362.8" y1="347.1" x2="362.8" y2="350.6" stroke="#222" stroke-width="1" />
<line x1="422.5" y1="347.1" x2="422.5" y2="350.6" stroke="#222" stroke-width="1" />
<line x1="482.2" y1="347.1" x2="482.2" y2="350.6" stroke="#222" stroke-width="1" />
<text x="362.80" y="360.8" font-size="8.3" text-anchor="middle">VWF<tspan class="s" font-size="6" dy="-3.4">+/+</tspan></text>
<text x="422.50" y="360.8" font-size="8.3" text-anchor="middle">VWF<tspan class="s" font-size="6" dy="-3.4">2N/+</tspan></text>
<text x="482.20" y="360.8" font-size="8.3" text-anchor="middle">VWF<tspan class="s" font-size="6" dy="-3.4">2N/2N</tspan></text>
<line x1="362.8" y1="239.5" x2="362.8" y2="255.5" stroke="#222" stroke-width="1" />
<line x1="352.8" y1="239.5" x2="372.8" y2="239.5" stroke="#222" stroke-width="1" />
<line x1="352.8" y1="255.5" x2="372.8" y2="255.5" stroke="#222" stroke-width="1" />
<line x1="343.05" y1="247.5" x2="382.55" y2="247.5" stroke="#111" stroke-width="1.2" />
<line x1="422.5" y1="280.5" x2="422.5" y2="297.5" stroke="#222" stroke-width="1" />
<line x1="413.5" y1="280.5" x2="431.5" y2="280.5" stroke="#222" stroke-width="1" />
<line x1="413.5" y1="297.5" x2="431.5" y2="297.5" stroke="#222" stroke-width="1" />
<line x1="402.5" y1="289.5" x2="442.5" y2="289.5" stroke="#111" stroke-width="1.2" />
<path d="M362.75 233.25L365.25 235.75L362.75 238.25L360.25 235.75Z" fill="#c8001e"/>
<path d="M358.25 240.50L360.75 243.00L358.25 245.50L355.75 243.00Z" fill="#c8001e"/>
<path d="M367.50 242.25L370.00 244.75L367.50 247.25L365.00 244.75Z" fill="#c8001e"/>
<path d="M353.25 249.25L355.75 251.75L353.25 254.25L350.75 251.75Z" fill="#c8001e"/>
<path d="M371.75 250.50L374.25 253.00L371.75 255.50L369.25 253.00Z" fill="#c8001e"/>
<path d="M362.75 254.75L365.25 257.25L362.75 259.75L360.25 257.25Z" fill="#c8001e"/>
<circle cx="418.80" cy="272.90" r="2.0" fill="#0b6b4e"/>
<circle cx="426.20" cy="272.00" r="2.0" fill="#0b6b4e"/>
<circle cx="406.40" cy="278.50" r="2.0" fill="#0b6b4e"/>
<circle cx="411.80" cy="279.70" r="2.0" fill="#0b6b4e"/>
<circle cx="438.60" cy="276.20" r="2.0" fill="#0b6b4e"/>
<circle cx="433.40" cy="278.50" r="2.0" fill="#0b6b4e"/>
<circle cx="416.90" cy="282.80" r="2.0" fill="#0b6b4e"/>
<circle cx="422.60" cy="283.20" r="2.0" fill="#0b6b4e"/>
<circle cx="427.80" cy="281.60" r="2.0" fill="#0b6b4e"/>
<circle cx="418.80" cy="291.30" r="2.0" fill="#0b6b4e"/>
<circle cx="426.40" cy="292.20" r="2.0" fill="#0b6b4e"/>
<circle cx="415.10" cy="300.20" r="2.0" fill="#0b6b4e"/>
<circle cx="429.90" cy="300.70" r="2.0" fill="#0b6b4e"/>
<circle cx="422.60" cy="306.40" r="2.0" fill="#0b6b4e"/>
<circle cx="406.10" cy="284.30" r="2.0" fill="#0b6b4e"/>
<circle cx="439.10" cy="284.30" r="2.0" fill="#0b6b4e"/>
<circle cx="408.11" cy="284.63" r="2.0" fill="#0b6b4e"/>
<circle cx="437.14" cy="284.63" r="2.0" fill="#0b6b4e"/>
<circle cx="410.13" cy="285.17" r="2.0" fill="#0b6b4e"/>
<circle cx="435.19" cy="285.17" r="2.0" fill="#0b6b4e"/>
<circle cx="412.14" cy="285.83" r="2.0" fill="#0b6b4e"/>
<circle cx="433.23" cy="285.83" r="2.0" fill="#0b6b4e"/>
<circle cx="414.16" cy="286.58" r="2.0" fill="#0b6b4e"/>
<circle cx="431.27" cy="286.58" r="2.0" fill="#0b6b4e"/>
<circle cx="416.17" cy="287.42" r="2.0" fill="#0b6b4e"/>
<circle cx="429.31" cy="287.42" r="2.0" fill="#0b6b4e"/>
<circle cx="418.19" cy="288.33" r="2.0" fill="#0b6b4e"/>
<circle cx="427.36" cy="288.33" r="2.0" fill="#0b6b4e"/>
<circle cx="420.20" cy="289.30" r="2.0" fill="#0b6b4e"/>
<circle cx="425.40" cy="289.30" r="2.0" fill="#0b6b4e"/>
<circle cx="407.10" cy="292.50" r="2.0" fill="#0b6b4e"/>
<circle cx="409.68" cy="294.03" r="2.0" fill="#0b6b4e"/>
<circle cx="412.27" cy="295.45" r="2.0" fill="#0b6b4e"/>
<circle cx="414.85" cy="296.67" r="2.0" fill="#0b6b4e"/>
<circle cx="417.43" cy="297.61" r="2.0" fill="#0b6b4e"/>
<circle cx="420.02" cy="298.20" r="2.0" fill="#0b6b4e"/>
<circle cx="422.60" cy="298.40" r="2.0" fill="#0b6b4e"/>
<circle cx="425.18" cy="298.20" r="2.0" fill="#0b6b4e"/>
<circle cx="427.77" cy="297.61" r="2.0" fill="#0b6b4e"/>
<circle cx="430.35" cy="296.67" r="2.0" fill="#0b6b4e"/>
<circle cx="432.93" cy="295.45" r="2.0" fill="#0b6b4e"/>
<circle cx="435.52" cy="294.03" r="2.0" fill="#0b6b4e"/>
<circle cx="438.10" cy="292.50" r="2.0" fill="#0b6b4e"/>
<line x1="462.59999999999997" y1="342.4" x2="501.8" y2="342.4" stroke="#222" stroke-width="1.1" />
<line x1="466.5" y1="342.4" x2="498" y2="342.4" stroke="#8b80cc" stroke-width="4" stroke-linecap="round"/>
</svg>
</body></html>
